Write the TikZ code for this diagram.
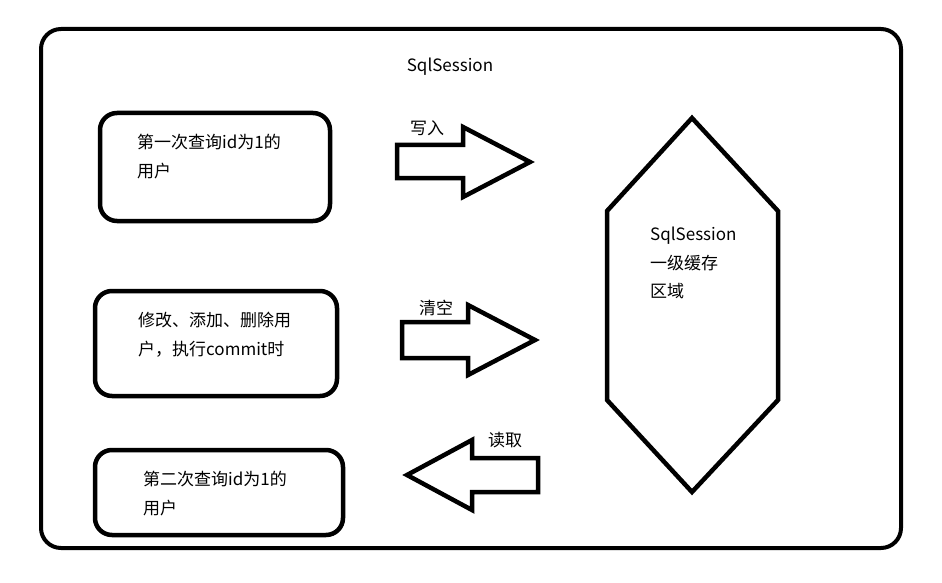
\documentclass[tikz,border=0pt]{standalone}
\usepackage{fontspec}
\setmainfont{Noto Sans CJK SC}
\usetikzlibrary{shapes}

\begin{document}
\begin{tikzpicture}[x=1pt,y=-1pt]
    \tikzstyle{frame}=[draw, rounded corners=20pt, line width=4pt, inner sep=0pt]
    \tikzstyle{query}=[draw, rounded corners=17pt, line width=4.5pt, inner sep=0pt]
    \tikzstyle{label}=[text=black, inner sep=0pt, font=\fontsize{17}{28.5}\selectfont]
    \tikzstyle{block}=[style=label, align=left, anchor=north west]
    \tikzstyle{fat}=[draw, line width=4.5pt, line join=miter]

    \useasboundingbox (0,0) rectangle (942,583);

    % outer session frame
    \node[frame, minimum width=860pt, minimum height=519pt] (session) at (471,288.5) {};
    \node[label]                                           (title)   at (450,67)    {SqlSession};

    % the three operations
    \node[query, minimum width=230pt, minimum height=108pt] (first)  at (215,167)   {};
    \node[query, minimum width=242pt, minimum height=105pt] (change) at (216,343.5) {};
    \node[query, minimum width=248pt, minimum height=85pt]  (second) at (219,492.5) {};

    \node[block] (firstT)  at (137,134) {第一次查询id为1的\\用户};
    \node[block] (changeT) at (138,312) {修改、添加、删除用\\户，执行commit时};
    \node[block] (secondT) at (143,471) {第二次查询id为1的\\用户};

    % cache region
    \draw[fat] (692,118) -- (778,211) -- (778,400) -- (692,492) -- (607,400) -- (607,211) -- cycle;
    \node[block] (cacheT) at (650,227) {SqlSession\\一级缓存\\区域};

    % fat arrows
    \draw[fat] (397,145) -- (463,145) -- (463,127) -- (530,162) -- (463,197) -- (463,178) -- (397,178) -- cycle;
    \draw[fat] (402,322) -- (468,322) -- (468,305) -- (535,340) -- (468,375) -- (468,358) -- (402,358) -- cycle;
    \draw[fat] (538,458) -- (472,458) -- (472,440) -- (407,475) -- (472,510) -- (472,492) -- (538,492) -- cycle;

    \node[label] (write) at (427,128) {写入};
    \node[label] (clear) at (436,308) {清空};
    \node[label] (read)  at (505,440) {读取};
\end{tikzpicture}
\end{document}
